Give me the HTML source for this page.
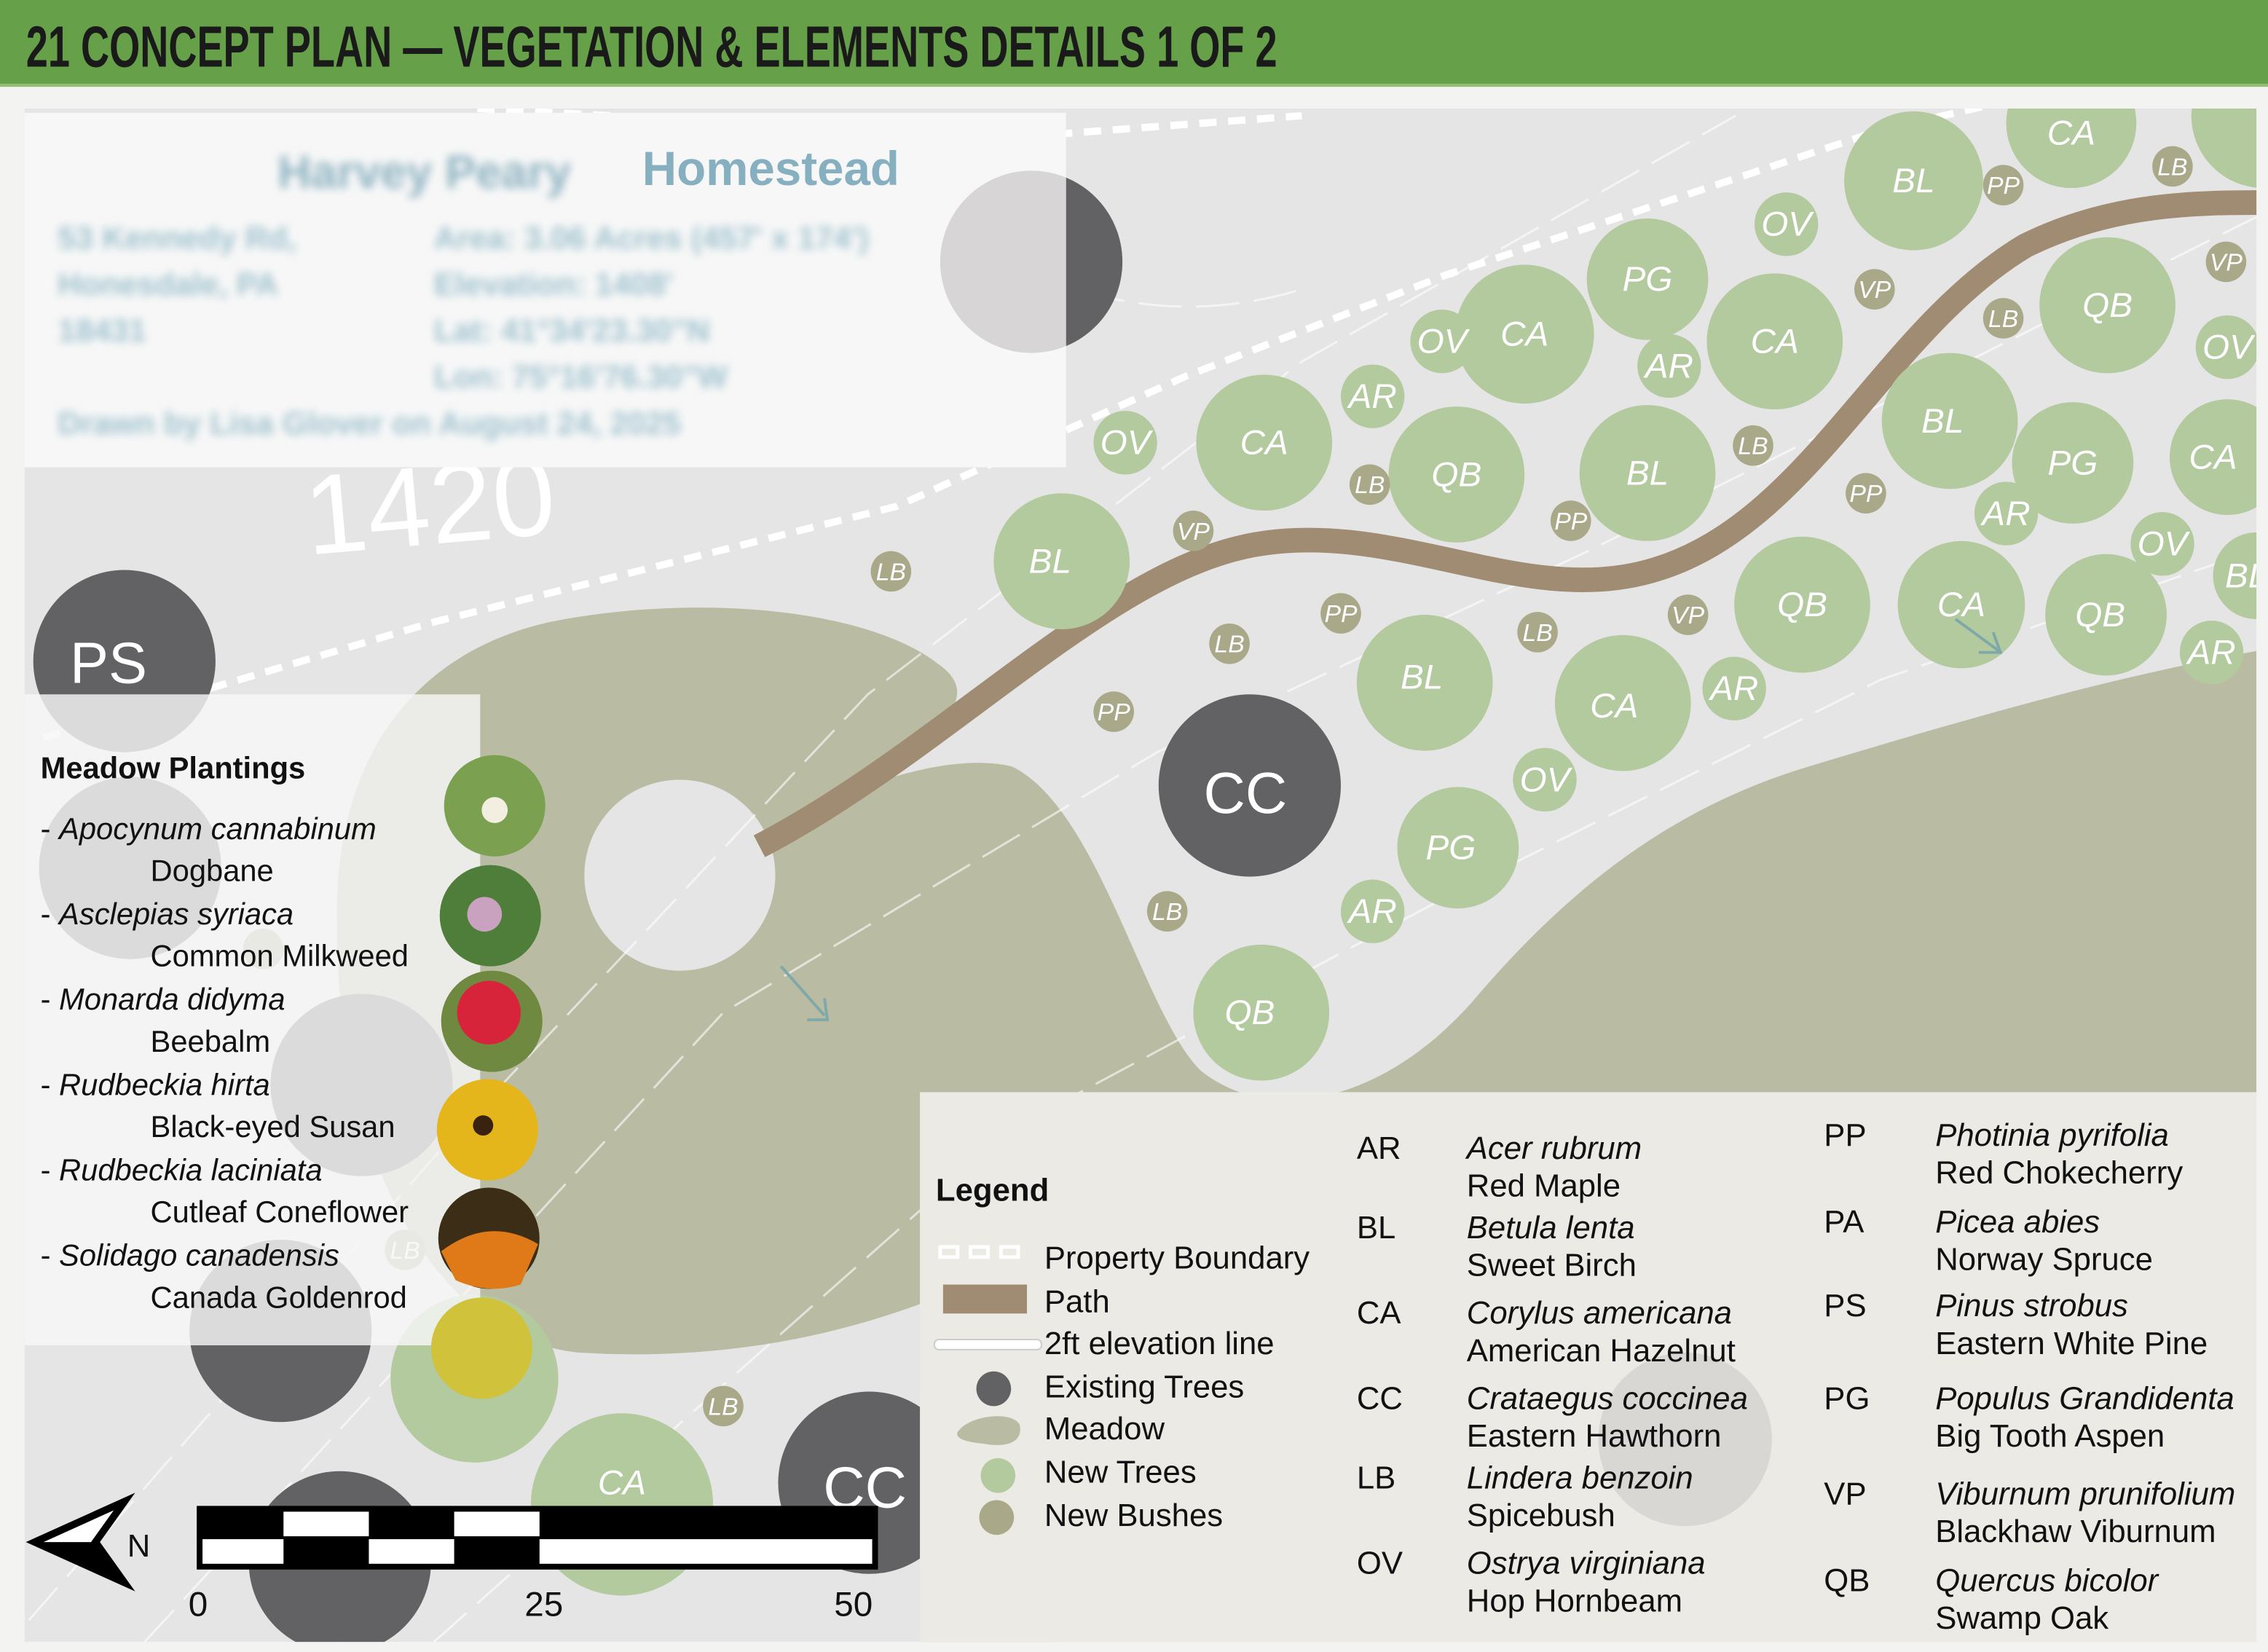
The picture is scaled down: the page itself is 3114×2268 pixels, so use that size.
<!DOCTYPE html>
<html><head><meta charset="utf-8"><style>
html,body{margin:0;padding:0;background:#f3f3f1;}
svg{display:block;}
text{font-family:"Liberation Sans Narrow","Liberation Sans",sans-serif;}
.t{fill:#fff;font-size:24px;text-anchor:middle;font-style:italic;}
.b{fill:#fff;font-size:17px;text-anchor:middle;font-style:italic;}
.lg{font-size:22px;fill:#111;}
.it{font-style:italic;}
.mp{font-family:"Liberation Sans","DejaVu Sans",sans-serif;font-size:21px;fill:#111;}
</style></head><body>
<svg width="3114" height="2268" viewBox="0 0 1568 1142" preserveAspectRatio="none" xmlns="http://www.w3.org/2000/svg">
<defs>
<filter id="bl"><feGaussianBlur stdDeviation="3"/></filter>
<clipPath id="cp"><rect x="640" y="100" width="97" height="200"/></clipPath>
<clipPath id="map"><rect x="17" y="75" width="1543" height="1060"/></clipPath>
</defs>
<rect width="1568" height="1142" fill="#f3f3f1"/>
<g clip-path="url(#map)">
<rect x="17" y="75" width="1543" height="1060" fill="#e6e5e6"/>
<path d="M233,640 C230,520 290,450 380,430 C480,410 600,420 650,460 C690,490 620,520 560,560 C600,540 660,520 700,530 C760,560 790,700 830,740 C880,780 960,760 1020,690 C1080,620 1150,560 1250,530 C1350,500 1450,470 1560,450 L1560,1135 L640,1135 L640,900 C560,930 480,940 400,935 C300,925 233,800 233,640 Z" fill="#b9bca2"/>
<circle cx="470" cy="605" r="66" fill="#e6e5e6"/>
<g stroke="#fff" stroke-width="1.5" fill="none" opacity="0.6" stroke-dasharray="30 10">
<path d="M20,1120 L300,800 L600,480 L900,250 L1200,80"/>
<path d="M100,1135 L500,700 L800,520 L1100,380 L1560,150"/>
<path d="M300,1135 L700,780 L1000,620 L1300,470 L1560,380"/>
<path d="M640,150 C720,200 800,230 900,200"/>
</g>
<g stroke="#fff" stroke-width="5" fill="none" stroke-dasharray="12 8">
<path d="M30,510 L300,430 L620,350 L820,260 L1000,190 L1300,90 L1430,60"/>
<path d="M200,1060 L240,1142"/>
<path d="M330,75 L700,95 L900,80"/>
</g>
<text x="210" y="375" font-size="78" fill="#fff" font-family="Liberation Sans" transform="rotate(-5 310 345)">1420</text>
<path d="M525,585 C650,520 760,400 860,378 C960,356 1050,420 1140,395 C1250,365 1300,230 1400,170 C1460,140 1520,140 1568,140" stroke="#a08c72" stroke-width="17" fill="none"/>
<g fill="#626264">
<circle cx="713" cy="181" r="63"/><circle cx="864" cy="543" r="63"/><circle cx="86" cy="457" r="63"/>
<circle cx="194" cy="920" r="63"/><circle cx="235" cy="1080" r="63"/><circle cx="601" cy="1025" r="63"/>
<circle cx="90" cy="600" r="63"/><circle cx="250" cy="750" r="63"/>
</g>
<g fill="#b3ca9f">
<circle cx="1432" cy="85" r="45"/><circle cx="1323" cy="125" r="48"/><circle cx="1139" cy="193" r="42"/>
<circle cx="1227" cy="236" r="47"/><circle cx="1457" cy="211" r="47"/><circle cx="1054" cy="231" r="48"/>
<circle cx="874" cy="306" r="47"/><circle cx="1007" cy="328" r="47"/><circle cx="1139" cy="327" r="47"/>
<circle cx="1348" cy="291" r="47"/><circle cx="1433" cy="320" r="42"/><circle cx="1540" cy="316" r="40"/>
<circle cx="734" cy="388" r="47"/><circle cx="1246" cy="418" r="47"/><circle cx="1356" cy="418" r="44"/>
<circle cx="1456" cy="425" r="42"/><circle cx="1560" cy="398" r="30"/><circle cx="1565" cy="80" r="50"/>
<circle cx="985" cy="472" r="47"/><circle cx="1122" cy="486" r="47"/><circle cx="1008" cy="586" r="42"/>
<circle cx="872" cy="700" r="47"/><circle cx="328" cy="953" r="58"/><circle cx="430" cy="1040" r="63"/>
<circle cx="684" cy="1135" r="47"/>
<circle cx="1235" cy="155" r="22"/><circle cx="997" cy="236" r="22"/><circle cx="1154" cy="253" r="22"/>
<circle cx="949" cy="274" r="22"/><circle cx="778" cy="306" r="22"/><circle cx="1387" cy="355" r="22"/>
<circle cx="1495" cy="376" r="22"/><circle cx="1540" cy="240" r="22"/><circle cx="1529" cy="451" r="22"/>
<circle cx="1199" cy="476" r="22"/><circle cx="1068" cy="539" r="22"/><circle cx="949" cy="630" r="22"/>
</g>
<g fill="#a9a98a">
<circle cx="1502" cy="115" r="14"/><circle cx="1385" cy="128" r="14"/><circle cx="1296" cy="200" r="14"/>
<circle cx="1385" cy="220" r="14"/><circle cx="1539" cy="181" r="14"/><circle cx="947" cy="335" r="14"/>
<circle cx="1212" cy="308" r="14"/><circle cx="1290" cy="341" r="14"/><circle cx="1086" cy="360" r="14"/>
<circle cx="825" cy="367" r="14"/><circle cx="616" cy="395" r="14"/><circle cx="927" cy="424" r="14"/>
<circle cx="1063" cy="437" r="14"/><circle cx="1167" cy="425" r="14"/><circle cx="850" cy="445" r="14"/>
<circle cx="770" cy="492" r="14"/><circle cx="807" cy="630" r="14"/><circle cx="500" cy="972" r="14"/>
<circle cx="182" cy="656" r="14"/><circle cx="280" cy="864" r="14"/>
</g>
<g class="t">
<text x="1432" y="100">CA</text><text x="1323" y="133">BL</text><text x="1139" y="201">PG</text>
<text x="1227" y="244">CA</text><text x="1457" y="219">QB</text><text x="1054" y="239">CA</text>
<text x="874" y="314">CA</text><text x="1007" y="336">QB</text><text x="1139" y="335">BL</text>
<text x="1343" y="299">BL</text><text x="1433" y="328">PG</text><text x="1530" y="324">CA</text>
<text x="726" y="396">BL</text><text x="1246" y="426">QB</text><text x="1356" y="426">CA</text>
<text x="1452" y="433">QB</text><text x="983" y="476">BL</text><text x="1116" y="496">CA</text>
<text x="1003" y="594">PG</text><text x="864" y="708">QB</text><text x="430" y="1033">CA</text>
<text x="1235" y="163">OV</text><text x="997" y="244">OV</text><text x="1154" y="261">AR</text>
<text x="949" y="282">AR</text><text x="778" y="314">OV</text><text x="1387" y="363">AR</text>
<text x="1495" y="384">OV</text><text x="1540" y="248">OV</text><text x="1529" y="459">AR</text>
<text x="1199" y="484">AR</text><text x="1068" y="547">OV</text><text x="949" y="638">AR</text>
<text x="1553" y="406">BL</text>
</g>
<g class="b">
<text x="1502" y="121">LB</text><text x="1385" y="134">PP</text><text x="1296" y="206">VP</text>
<text x="1385" y="226">LB</text><text x="1539" y="187">VP</text><text x="947" y="341">LB</text>
<text x="1212" y="314">LB</text><text x="1290" y="347">PP</text><text x="1086" y="366">PP</text>
<text x="825" y="373">VP</text><text x="616" y="401">LB</text><text x="927" y="430">PP</text>
<text x="1063" y="443">LB</text><text x="1167" y="431">VP</text><text x="850" y="451">LB</text>
<text x="770" y="498">PP</text><text x="807" y="636">LB</text><text x="500" y="978">LB</text>
<text x="280" y="870">LB</text>
</g>
<g fill="#fff" font-size="40" text-anchor="middle">
<text x="861" y="562">CC</text><text x="75" y="472">PS</text><text x="598" y="1042">CC</text>
</g>
<g stroke="#7fa9a8" stroke-width="2" fill="none">
<path d="M540,668 L570,702 M558,705 L572,705 L570,690"/>
<path d="M1352,428 L1382,450 M1368,451 L1383,451 L1378,437"/>
</g>
</g>
<!-- info panel -->
<rect x="17" y="78" width="720" height="245" fill="#f7f7f7"/>
<g filter="url(#bl)" fill="#9fc2cf" font-family="Liberation Sans" font-weight="bold" font-size="22">
<text x="192" y="130" font-size="32" fill="#8fb4c2">Harvey Peary</text>
<text x="40" y="172">53 Kennedy Rd,</text><text x="40" y="204">Honesdale, PA</text><text x="40" y="236">18431</text>
<text x="300" y="172">Area: 3.06 Acres (457' x 174')</text><text x="300" y="204">Elevation: 1408'</text>
<text x="300" y="236">Lat: 41°34'23.30"N</text><text x="300" y="268">Lon: 75°16'76.30"W</text>
<text x="40" y="300">Drawn by Lisa Glover on August 24, 2025</text>
</g>
<text x="444" y="128" font-family="Liberation Sans" font-weight="bold" font-size="33" fill="#86afbf">Homestead</text>
<circle cx="713" cy="181" r="63" fill="#d1cfcf" opacity="0.85" clip-path="url(#cp)"/>
<!-- meadow panel -->
<rect x="17" y="480" width="315" height="450" fill="#f7f7f7" opacity="0.82"/>
<text x="28" y="538" class="mp" font-weight="bold" font-size="25">Meadow Plantings</text>
<g class="mp">
<text x="28" y="580"><tspan>- </tspan><tspan class="it">Apocynum cannabinum</tspan></text><text x="104" y="609">Dogbane</text>
<text x="28" y="639">- <tspan class="it">Asclepias syriaca</tspan></text><text x="104" y="668">Common Milkweed</text>
<text x="28" y="698">- <tspan class="it">Monarda didyma</tspan></text><text x="104" y="727">Beebalm</text>
<text x="28" y="757">- <tspan class="it">Rudbeckia hirta</tspan></text><text x="104" y="786">Black-eyed Susan</text>
<text x="28" y="816">- <tspan class="it">Rudbeckia laciniata</tspan></text><text x="104" y="845">Cutleaf Coneflower</text>
<text x="28" y="875">- <tspan class="it">Solidago canadensis</tspan></text><text x="104" y="904">Canada Goldenrod</text>
</g>
<circle cx="342" cy="557" r="35" fill="#7aa050"/><circle cx="342" cy="560" r="9" fill="#f2efe0"/>
<circle cx="339" cy="633" r="35" fill="#4f7d3a"/><circle cx="335" cy="632" r="12" fill="#c9a2c0"/>
<circle cx="340" cy="706" r="35" fill="#6f8a40"/><circle cx="338" cy="700" r="22" fill="#d8243a"/>
<circle cx="337" cy="781" r="35" fill="#e4b61c"/><circle cx="334" cy="778" r="7" fill="#3a2210"/>
<circle cx="338" cy="856" r="35" fill="#3c2e16"/><path d="M305,865 Q338,840 372,860 L360,888 Q338,895 315,885Z" fill="#e07a18"/>
<circle cx="333" cy="932" r="35" fill="#d0c23a"/>
<!-- legend panel -->
<rect x="636" y="755" width="924" height="380" fill="#ebeae4"/>
<circle cx="1165" cy="995" r="60" fill="#d4d2ce" opacity="0.8"/>
<text x="647" y="830" class="lg" font-weight="bold" font-size="25">Legend</text>
<g fill="none" stroke="#fff" stroke-width="2.5"><rect x="650" y="862" width="12" height="7"/><rect x="671" y="862" width="12" height="7"/><rect x="692" y="862" width="12" height="7"/></g>
<rect x="652" y="888" width="58" height="20" fill="#a08c72"/>
<rect x="646" y="926" width="74" height="7" rx="3" fill="#fff" stroke="#ccc"/>
<circle cx="687" cy="960" r="12" fill="#626264"/>
<path d="M662,990 C670,978 700,975 705,985 C708,1000 690,1000 680,998 C670,997 660,995 662,990Z" fill="#b9bca2"/>
<circle cx="690" cy="1020" r="12" fill="#b3ca9f"/>
<circle cx="689" cy="1049" r="12" fill="#a9a98a"/>
<g class="lg">
<text x="722" y="877">Property Boundary</text><text x="722" y="907">Path</text><text x="722" y="936">2ft elevation line</text>
<text x="722" y="966">Existing Trees</text><text x="722" y="995">Meadow</text><text x="722" y="1025">New Trees</text><text x="722" y="1055">New Bushes</text>
<text x="938" y="801">AR</text><text x="1014" y="801" class="it">Acer rubrum</text><text x="1014" y="827">Red Maple</text>
<text x="938" y="856">BL</text><text x="1014" y="856" class="it">Betula lenta</text><text x="1014" y="882">Sweet Birch</text>
<text x="938" y="915">CA</text><text x="1014" y="915" class="it">Corylus americana</text><text x="1014" y="941">American Hazelnut</text>
<text x="938" y="974">CC</text><text x="1014" y="974" class="it">Crataegus coccinea</text><text x="1014" y="1000">Eastern Hawthorn</text>
<text x="938" y="1029">LB</text><text x="1014" y="1029" class="it">Lindera benzoin</text><text x="1014" y="1055">Spicebush</text>
<text x="938" y="1088">OV</text><text x="1014" y="1088" class="it">Ostrya virginiana</text><text x="1014" y="1114">Hop Hornbeam</text>
<text x="1261" y="792">PP</text><text x="1338" y="792" class="it">Photinia pyrifolia</text><text x="1338" y="818">Red Chokecherry</text>
<text x="1261" y="852">PA</text><text x="1338" y="852" class="it">Picea abies</text><text x="1338" y="878">Norway Spruce</text>
<text x="1261" y="910">PS</text><text x="1338" y="910" class="it">Pinus strobus</text><text x="1338" y="936">Eastern White Pine</text>
<text x="1261" y="974">PG</text><text x="1338" y="974" class="it">Populus Grandidenta</text><text x="1338" y="1000">Big Tooth Aspen</text>
<text x="1261" y="1040">VP</text><text x="1338" y="1040" class="it">Viburnum prunifolium</text><text x="1338" y="1066">Blackhaw Viburnum</text>
<text x="1261" y="1100">QB</text><text x="1338" y="1100" class="it">Quercus bicolor</text><text x="1338" y="1126">Swamp Oak</text>
</g>
<!-- scale bar -->
<rect x="136" y="1041" width="471" height="44" fill="#000"/>
<g fill="#fff">
<rect x="196" y="1045" width="59" height="17"/><rect x="314" y="1045" width="59" height="17"/>
<rect x="140" y="1064" width="56" height="17"/><rect x="255" y="1064" width="59" height="17"/><rect x="373" y="1064" width="230" height="17"/>
</g>
<g font-family="Liberation Sans" font-size="24" fill="#111" text-anchor="middle"><text x="137" y="1117">0</text><text x="376" y="1117">25</text><text x="590" y="1117">50</text></g>
<path d="M24,1066 L86,1038 L66,1066 L86,1094 Z" fill="#fff" stroke="#000" stroke-width="5" stroke-linejoin="miter"/>
<path d="M24,1066 L66,1066 L86,1094 Z" fill="#000"/>
<text x="88" y="1076" font-family="Liberation Sans" font-size="22" fill="#111">N</text>
<!-- header -->
<rect x="0" y="0" width="1568" height="58" fill="#66a14a"/>
<rect x="0" y="58" width="1568" height="2" fill="#8fbd74"/>
<text x="18" y="46" font-size="40" font-weight="bold" fill="#1a1a1a" textLength="865" lengthAdjust="spacingAndGlyphs">21  CONCEPT PLAN — VEGETATION &amp; ELEMENTS DETAILS 1 OF 2</text>
</svg>
</body></html>
